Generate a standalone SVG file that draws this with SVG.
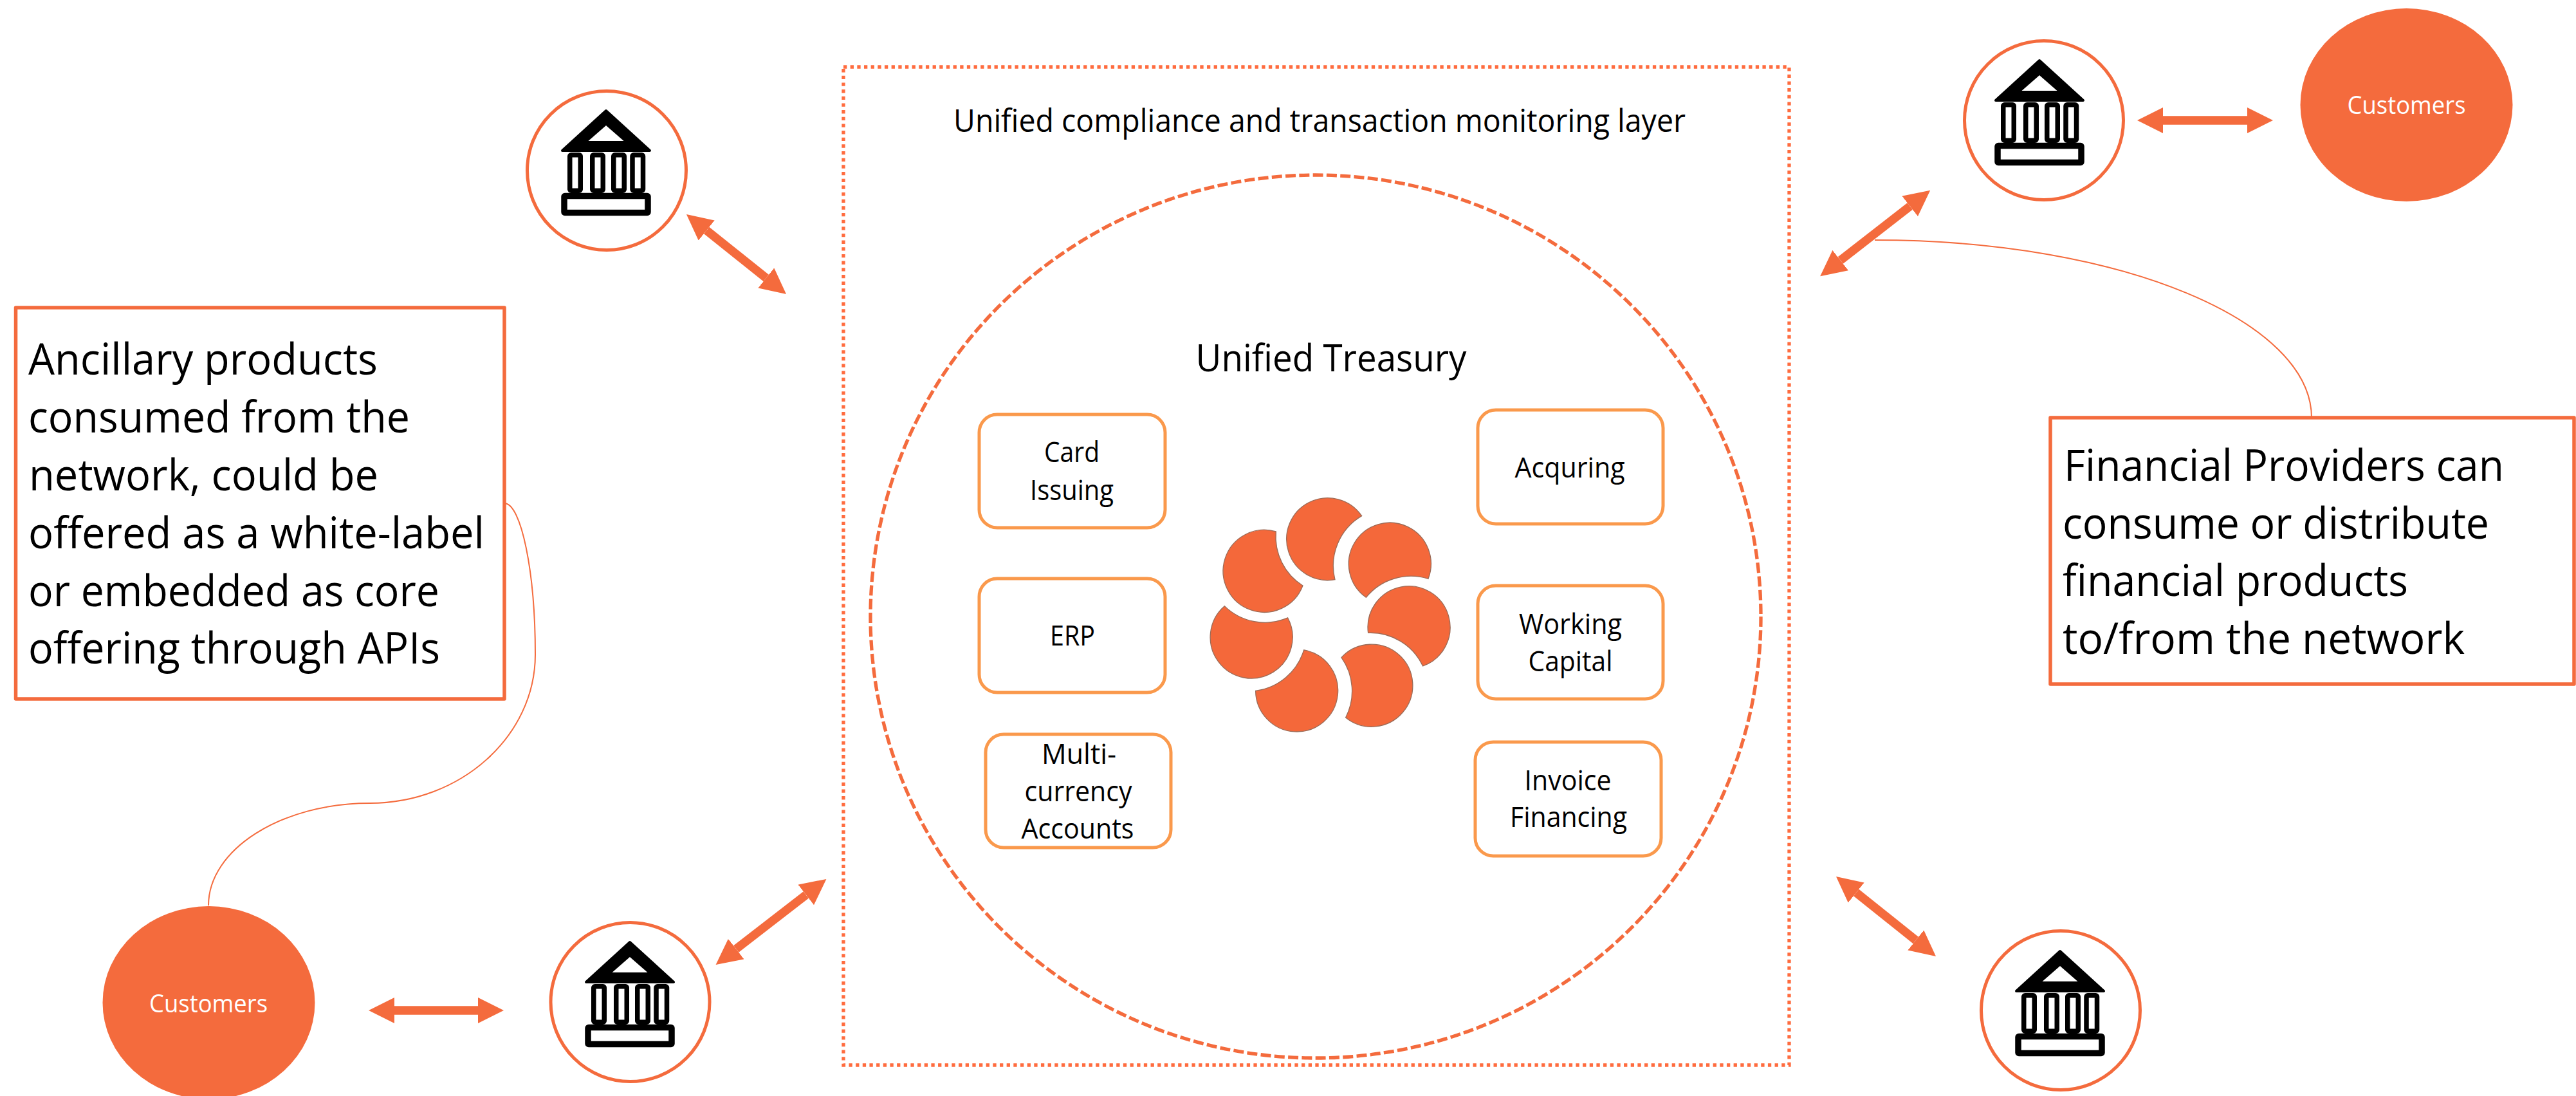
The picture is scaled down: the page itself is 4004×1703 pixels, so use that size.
<svg xmlns="http://www.w3.org/2000/svg" width="4004" height="1703" viewBox="0 0 4004 1703">
<style>
text{font-family:"Open Sans","Noto Sans","Liberation Sans",sans-serif;fill:#000}
.big{font-size:68px}
.mid{font-size:44px;text-anchor:middle}
.cust{font-size:38px;text-anchor:middle;fill:#fff}
.note{fill:#fff;stroke:#F46B3D;stroke-width:5.5;stroke-linejoin:round}
.svc{fill:#fff;stroke:#FA994C;stroke-width:5}
.ring{fill:#fff;stroke:#F46B3D;stroke-width:5}
.cblob{fill:#F46B3D}
.dbl{stroke:#F46B3D;stroke-width:13.33;fill:none;marker-start:url(#head);marker-end:url(#head)}
.thin{stroke:#F46B3D;stroke-width:2;fill:none}
.petal{fill:#F4683A;stroke:#9C6C58;stroke-width:4}
</style>
<defs>
<marker id="head" viewBox="0 0 10 10" refX="0" refY="5" markerUnits="strokeWidth" markerWidth="3" markerHeight="3" orient="auto-start-reverse"><path d="M0 0L10 5L0 10Z" fill="#F46B3D"/></marker>
<g id="bank">
<path d="M0 -93L68 -31H-68Z" fill="#000" stroke="#000" stroke-width="4" stroke-linejoin="round"/>
<path d="M0 -70L27.5 -46H-27.5Z" fill="#fff"/>
<g fill="#fff" stroke="#000" stroke-width="7.5">
<rect x="-56.25" y="-24.25" width="16.5" height="55.5" rx="2"/>
<rect x="-21.25" y="-24.25" width="16.5" height="55.5" rx="2"/>
<rect x="11.75" y="-24.25" width="16.5" height="55.5" rx="2"/>
<rect x="41" y="-24.25" width="16.5" height="55.5" rx="2"/>
<rect x="-65" y="39.5" width="130" height="26" stroke-width="9.5" rx="1"/>
</g>
</g>
</defs>
<rect width="4004" height="1703" fill="#fff"/>
<g id="layer">
<rect x="1311" y="104" width="1470" height="1551" fill="none" stroke="#FF6C3F" stroke-width="5.33" stroke-dasharray="5.33 5.33"/>
<text x="1482" y="205" font-size="49" textLength="1138" lengthAdjust="spacingAndGlyphs">Unified compliance and transaction monitoring layer</text>
</g>
<g id="treasury">
<ellipse cx="2045" cy="958" rx="692" ry="686" fill="none" stroke="#F46B3D" stroke-width="5.33" stroke-dasharray="16 5.33"/>
<text x="2069" y="577" font-size="58" text-anchor="middle" textLength="421" lengthAdjust="spacingAndGlyphs">Unified Treasury</text>
</g>
<g id="logo" transform="translate(1820 740) scale(.3333)">
<path class="petal" d="M890 185A192 192 0 1 0 765 482A270 270 0 0 1 890 185Z"/>
<path class="petal" d="M1200 478A192 192 0 1 0 910 565A270 270 0 0 1 1200 478Z"/>
<path class="petal" d="M1175 885A192 192 0 1 0 920 730A270 270 0 0 1 1175 885Z"/>
<path class="petal" d="M815 1125A192 192 0 1 0 795 845A270 270 0 0 1 815 1125Z"/>
<path class="petal" d="M395 1000A192 192 0 1 0 620 810A270 270 0 0 1 395 1000Z"/>
<path class="petal" d="M250 605A192 192 0 1 0 545 660A270 270 0 0 1 250 605Z"/>
<path class="petal" d="M490 258A192 192 0 1 0 615 510A270 270 0 0 1 490 258Z"/>
</g>
<g id="card-issuing"><rect class="svc" x="1522" y="644" width="289" height="176" rx="28"/><text class="mid" x="1666" y="718" textLength="86" lengthAdjust="spacingAndGlyphs">Card</text><text class="mid" x="1666" y="777" textLength="130" lengthAdjust="spacingAndGlyphs">Issuing</text></g>
<g id="erp"><rect class="svc" x="1522" y="899" width="289" height="177" rx="28"/><text class="mid" x="1667" y="1003" textLength="70" lengthAdjust="spacingAndGlyphs">ERP</text></g>
<g id="multi-currency"><rect class="svc" x="1532" y="1141" width="288" height="176" rx="28"/><text class="mid" x="1677" y="1187" textLength="116" lengthAdjust="spacingAndGlyphs">Multi-</text><text class="mid" x="1676" y="1245" textLength="167" lengthAdjust="spacingAndGlyphs">currency</text><text class="mid" x="1675" y="1303" textLength="175" lengthAdjust="spacingAndGlyphs">Accounts</text></g>
<g id="acquring"><rect class="svc" x="2297" y="637" width="288" height="177" rx="28"/><text class="mid" x="2440" y="742" textLength="171" lengthAdjust="spacingAndGlyphs">Acquring</text></g>
<g id="working-capital"><rect class="svc" x="2297" y="910" width="288" height="176" rx="28"/><text class="mid" x="2441" y="985" textLength="160" lengthAdjust="spacingAndGlyphs">Working</text><text class="mid" x="2441" y="1043" textLength="131" lengthAdjust="spacingAndGlyphs">Capital</text></g>
<g id="invoice-financing"><rect class="svc" x="2293" y="1153" width="289" height="177" rx="28"/><text class="mid" x="2437" y="1228" textLength="135" lengthAdjust="spacingAndGlyphs">Invoice</text><text class="mid" x="2438" y="1285" textLength="182" lengthAdjust="spacingAndGlyphs">Financing</text></g>
<g id="connectors">
<line class="dbl" x1="1098.2" y1="358" x2="1190.8" y2="432"/>
<line class="dbl" x1="2885.2" y1="1387" x2="2977.8" y2="1461"/>
<line class="dbl" x1="2860.7" y1="404.6" x2="2968.7" y2="320.4"/>
<line class="dbl" x1="1144.2" y1="1474.6" x2="1252.8" y2="1390.4"/>
<line class="dbl" x1="3362" y1="187" x2="3493" y2="187"/>
<line class="dbl" x1="613" y1="1570" x2="743" y2="1570"/>
<path class="thin" d="M2914 373C3300 373 3593 500 3593 649"/>
<path class="thin" d="M784 782C810 782 832 888 832 1017C832 1144 716 1248 575 1248C437 1248 324 1320 324 1407"/>
</g>
<g id="bank-top-left"><circle class="ring" cx="943" cy="265" r="123.5"/><use href="#bank" x="942" y="265"/></g>
<g id="bank-top-right"><circle class="ring" cx="3177" cy="187" r="123.5"/><use href="#bank" x="3170" y="187"/></g>
<g id="bank-bottom-left"><circle class="ring" cx="979.5" cy="1557" r="123.5"/><use href="#bank" x="979" y="1557"/></g>
<g id="bank-bottom-right"><circle class="ring" cx="3203" cy="1570" r="123.5"/><use href="#bank" x="3202" y="1571"/></g>
<g id="customers-top-right"><ellipse class="cblob" cx="3740.5" cy="163" rx="165" ry="150"/><text class="cust" x="3740.5" y="177" textLength="184" lengthAdjust="spacingAndGlyphs">Customers</text></g>
<g id="customers-bottom-left"><ellipse class="cblob" cx="324.5" cy="1558" rx="165" ry="150"/><text class="cust" x="324" y="1573" textLength="184" lengthAdjust="spacingAndGlyphs">Customers</text></g>
<g id="note-ancillary"><rect class="note" x="24.5" y="478" width="759.5" height="608"/>
<text class="big" x="44" y="582" textLength="543" lengthAdjust="spacingAndGlyphs">Ancillary products</text>
<text class="big" x="44" y="672" textLength="593" lengthAdjust="spacingAndGlyphs">consumed from the</text>
<text class="big" x="45" y="762" textLength="543" lengthAdjust="spacingAndGlyphs">network, could be</text>
<text class="big" x="44" y="852" textLength="709" lengthAdjust="spacingAndGlyphs">offered as a white-label</text>
<text class="big" x="44" y="942" textLength="639" lengthAdjust="spacingAndGlyphs">or embedded as core</text>
<text class="big" x="44" y="1031" textLength="640" lengthAdjust="spacingAndGlyphs">offering through APIs</text></g>
<g id="note-providers"><rect class="note" x="3187" y="649" width="814" height="414"/>
<text class="big" x="3208" y="747" textLength="684" lengthAdjust="spacingAndGlyphs">Financial Providers can</text>
<text class="big" x="3206" y="837" textLength="663" lengthAdjust="spacingAndGlyphs">consume or distribute</text>
<text class="big" x="3206" y="926" textLength="537" lengthAdjust="spacingAndGlyphs">financial products</text>
<text class="big" x="3206" y="1016" textLength="625" lengthAdjust="spacingAndGlyphs">to/from the network</text></g>
</svg>
